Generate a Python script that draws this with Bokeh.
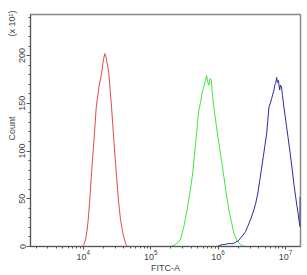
from bokeh.plotting import figure
from bokeh.models import Range1d, LogTicker, BasicTicker
from bokeh.embed import file_html
from bokeh.resources import INLINE

# ---- data (x as log10 of FITC-A, y as Count in units of 10^1)
red_logx = [3.985, 4.01, 4.034, 4.055, 4.074, 4.10, 4.123, 4.16, 4.193, 4.235, 4.272, 4.30,
            4.32, 4.335, 4.346, 4.365, 4.38, 4.40, 4.42, 4.455, 4.49, 4.52, 4.553, 4.58,
            4.60, 4.63, 4.653]
red_y = [0, 2, 7, 16, 28, 52, 77, 112, 146, 168, 181, 196,
         202, 199, 195, 188, 181, 163, 146, 110, 77, 50, 28, 17,
         10, 3, 0]

green_logx = [5.295, 5.37, 5.44, 5.49, 5.54, 5.58, 5.617, 5.645, 5.666, 5.69, 5.715, 5.74,
              5.765, 5.80, 5.83, 5.847, 5.864, 5.88, 5.90, 5.915, 5.937, 5.975, 6.012,
              6.05, 6.086, 6.12, 6.16, 6.20, 6.234, 6.28, 6.334, 6.38]
green_y = [0, 2, 7, 20, 38, 56, 73, 92, 108, 126, 143, 151,
           162, 170, 179, 172, 169, 176, 174, 160, 146, 126, 108,
           90, 73, 56, 38, 25, 14, 6, 2, 0]

blue_logx = [5.985, 6.02, 6.06, 6.10, 6.14, 6.18, 6.22, 6.26, 6.30, 6.334, 6.37, 6.41,
             6.445, 6.48, 6.52, 6.557, 6.59, 6.62, 6.645, 6.67, 6.695, 6.72, 6.737,
             6.754, 6.775, 6.794, 6.81, 6.829, 6.84, 6.855, 6.868, 6.88, 6.894, 6.913,
             6.925, 6.94, 6.955, 6.976, 7.005, 7.036, 7.07, 7.10, 7.125, 7.15, 7.17,
             7.186, 7.20, 7.213, 7.216]
blue_y = [0, 1, 2, 2, 3, 3, 3, 4.5, 6, 9, 12, 16,
          22, 28, 36, 45, 56, 70, 82, 94, 106, 118, 132,
          146, 150, 155, 159, 164, 169, 171, 177, 172, 174, 164,
          169, 167, 158, 146, 131, 115, 97, 80, 65, 52, 42,
          35, 27, 21, 52]

y_title = "Count"
y_scale_note = "(x 10\u00b9)"
x_title = "FITC-A"

x_start_log, x_end_log = 3.218, 7.222
y_start, y_end = 0, 243

W, H = 307, 275
BL, BR, BT, BB = 30, 7, 14, 28

p = figure(width=W, height=H, x_axis_type="log", output_backend="svg",
           toolbar_location=None,
           x_range=Range1d(10 ** x_start_log, 10 ** x_end_log),
           y_range=Range1d(y_start, y_end),
           min_border_left=BL, min_border_right=BR, min_border_top=BT, min_border_bottom=BB)

p.xgrid.visible = False
p.ygrid.visible = False
p.background_fill_color = "white"
p.border_fill_color = "white"
p.outline_line_color = "#888888"
p.outline_line_width = 1.5

for xs, ys, col in [(red_logx, red_y, "#e0494e"),
                    (green_logx, green_y, "#3be83b"),
                    (blue_logx, blue_y, "#2a2aa0")]:
    p.line([10 ** v for v in xs], ys, line_color=col, line_width=1)

font = "Liberation Sans"
for ax in (p.xaxis[0], p.yaxis[0]):
    ax.axis_line_color = "#555555"
    ax.major_tick_line_color = "#555555"
    ax.minor_tick_line_color = "#555555"
    ax.major_label_text_font = font
    ax.major_label_text_font_size = "9px"
    ax.major_label_text_color = "#444444"
    ax.axis_label_text_font = font
    ax.axis_label_text_font_size = "9px"
    ax.axis_label_text_font_style = "normal"
    ax.axis_label_text_color = "#444444"
    ax.major_tick_in = 0
    ax.minor_tick_in = 0

p.xaxis.ticker = LogTicker(num_minor_ticks=10)
p.xaxis.major_tick_out = 3
p.xaxis.minor_tick_out = 2
p.xaxis.major_label_standoff = 0
p.xaxis.axis_label = x_title
p.xaxis.axis_label_standoff = 0

p.yaxis.ticker = BasicTicker(desired_num_ticks=5, num_minor_ticks=5)
p.yaxis.major_tick_out = 4
p.yaxis.minor_tick_out = 2
p.yaxis.major_label_orientation = "vertical"
p.yaxis.major_label_standoff = 1
# the vertical axis title carries the scale note at its top end (non-breaking spaces keep
# "Count" centred on the frame, as in the reference)
nb = "\u00a0"
p.yaxis.axis_label = nb * 44 + y_title + nb * 32 + y_scale_note
p.yaxis.axis_label_standoff = 0

open("out.html", "w").write(file_html(p, INLINE))
